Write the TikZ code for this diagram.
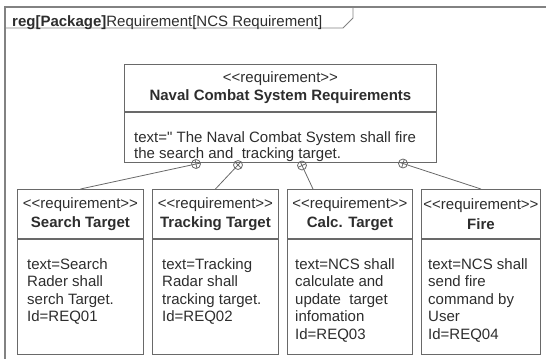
\documentclass[tikz,border=0pt]{standalone}
\usepackage{fontspec}
\setmainfont{Liberation Sans}[Ligatures=TeXOff]
\usetikzlibrary{positioning,calc}

\definecolor{boxline}{RGB}{105,105,105}
\definecolor{frameline}{RGB}{130,130,130}
\definecolor{ink}{RGB}{45,45,45}

\begin{document}
\begin{tikzpicture}[
        x=1pt,
        y=-1pt,
        every node/.style={font=\fontsize{15}{17.5}\selectfont, text=ink, inner sep=0pt},
        reqhead/.style={draw=boxline, line width=0.9pt, align=center, anchor=north west,
            font=\fontsize{15}{19.5}\selectfont},
        reqbody/.style={draw=boxline, line width=0.9pt, below=0pt of #1},
        reqtext/.style={align=left},
        contain/.style={circle, draw=boxline, line width=0.8pt, minimum size=9pt},
        conn/.style={draw=boxline, line width=0.8pt}
    ]
        \useasboundingbox (0,0) rectangle (546,359);

        % Diagram frame
        \draw[frameline, line width=1.3pt] (546,7) -- (5,7) -- (5,359);
        \draw[frameline, line width=0.9pt] (5,28) -- (343,28) -- (353,18) -- (353,7);
        \node[anchor=base west] (frameLabel) at (12,26){\textbf{reg[Package]}Requirement[NCS Requirement]};

        % Top requirement
        \node[reqhead, minimum width=312pt, minimum height=47pt,
            font=\fontsize{15}{18}\selectfont] (ncsHead) at (124,64){<<requirement>>\\\textbf{Naval Combat System Requirements}};
        \node[reqbody=ncsHead, minimum width=312pt, minimum height=50pt] (ncsBody){};
        \node[reqtext, below right=19.5pt and 10pt of ncsHead.south west,
            font=\fontsize{15}{16}\selectfont] (ncsText){text=" The Naval Combat System shall fire\\the search and\ \ tracking target.};

        % Sub requirements
        \node[reqhead, minimum width=126pt, minimum height=49pt] (searchHead) at (17,189){<<requirement>>\\\textbf{Search Target}};
        \node[reqbody=searchHead, minimum width=126pt, minimum height=115pt] (searchBody){};
        \node[reqtext, below right=19.5pt and 10pt of searchHead.south west] (searchText){text=Search\\Rader shall\\serch Target.\\Id=REQ01};

        \node[reqhead, minimum width=126pt, minimum height=49pt] (trackHead) at (152,189){<<requirement>>\\\textbf{Tracking Target}};
        \node[reqbody=trackHead, minimum width=126pt, minimum height=115pt] (trackBody){};
        \node[reqtext, below right=19.5pt and 10pt of trackHead.south west] (trackText){text=Tracking\\Radar shall\\tracking target.\\Id=REQ02};

        \node[reqhead, minimum width=125pt, minimum height=49pt] (calcHead) at (287,189){<<requirement>>\\\textbf{Calc. Target}};
        \node[reqbody=calcHead, minimum width=125pt, minimum height=115pt] (calcBody){};
        \node[reqtext, below right=19.5pt and 8pt of calcHead.south west] (calcText){text=NCS shall\\calculate and\\update\ \ target\\infomation\\Id=REQ03};

        \node[reqhead, minimum width=119pt, minimum height=49pt] (fireHead) at (421,189){<<requirement>>\\\textbf{Fire}};
        \node[reqbody=fireHead, minimum width=119pt, minimum height=115pt] (fireBody){};
        \node[reqtext, below right=19.5pt and 7pt of fireHead.south west] (fireText){text=NCS shall\\send fire\\command by\\User\\Id=REQ04};

        % Containment ends
        \node[contain] (c1) at (196,164){};
        \node[contain] (c2) at (238,165){};
        \node[contain] (c3) at (302,165.5){};
        \node[contain] (c4) at (403,163.5){};
        \coordinate (calcTop) at ([xshift=26pt]calcHead.north west);

        \foreach \c/\t in {c1/searchHead.north, c2/trackHead.north, c3/calcTop, c4/fireHead.north}{
            \draw[conn] (\t) -- (\c);
            \draw[conn] ($(\c.center)!4.5pt!(\t)$) -- ($(\c.center)!-4.5pt!(\t)$);
            \draw[conn] ($(\c.center)!4.5pt!90:(\t)$) -- ($(\c.center)!4.5pt!-90:(\t)$);
        }
    \end{tikzpicture}
\end{document}
